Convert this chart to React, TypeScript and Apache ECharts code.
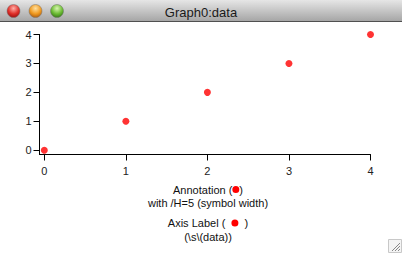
import React, { useEffect, useRef } from "react";
import * as echarts from "echarts";

const xValues = [0, 1, 2, 3, 4];
const yValues = [0, 1, 2, 3, 4];
const xTicks = [0, 1, 2, 3, 4];
const yTicks = [0, 1, 2, 3, 4];
const windowTitle = "Graph0:data";

const FONT = "'Liberation Sans', Arial, sans-serif";

export default function App() {
  const ref = useRef<HTMLDivElement>(null);
  useEffect(() => {
    document.body.style.margin = "0";
    const chart = echarts.init(ref.current!, null, { renderer: "svg" });
    const dot = {
      width: 7,
      height: 7,
      backgroundColor: "#ff0000",
      borderRadius: 3.5,
    };
    const lightTop = (cx: number, c1: string, c2: string, c3: string) => ({
      type: "circle",
      shape: { cx, cy: 11, r: 6.5 },
      style: {
        fill: new echarts.graphic.RadialGradient(0.5, 0.3, 0.7, [
          { offset: 0, color: c1 },
          { offset: 0.6, color: c2 },
          { offset: 1, color: c3 },
        ]),
        stroke: "#777",
        lineWidth: 0.5,
      },
      z: 12,
    });
    chart.setOption({
      animation: false,
      grid: { left: 39.5, right: 31.5, top: 34.5, bottom: 98.5, containLabel: false },
      xAxis: {
        type: "value",
        min: -0.059,
        max: 4,
        axisLine: { show: true, onZero: false, lineStyle: { color: "#000", width: 1 } },
        axisTick: { show: true, length: 6, inside: false, customValues: xTicks, lineStyle: { color: "#000" } },
        axisLabel: { customValues: xTicks, color: "#222", fontSize: 11, fontFamily: FONT, margin: 11 },
        splitLine: { show: false },
      },
      yAxis: {
        type: "value",
        min: -0.149,
        max: 4,
        axisLine: { show: true, onZero: false, lineStyle: { color: "#000", width: 1 } },
        axisTick: { show: true, length: 6, inside: false, customValues: yTicks, lineStyle: { color: "#000" } },
        axisLabel: { customValues: yTicks, color: "#222", fontSize: 11, fontFamily: FONT, margin: 8 },
        splitLine: { show: false },
      },
      series: [
        {
          type: "scatter",
          data: xValues.map((x, i) => [x, yValues[i]]),
          symbol: "circle",
          symbolSize: 7,
          itemStyle: { color: "#ff0000" },
          clip: false,
        },
      ],
      graphic: [
        {
          type: "rect",
          shape: { x: 0, y: 0, width: 402, height: 21 },
          style: {
            fill: new echarts.graphic.LinearGradient(0, 0, 0, 1, [
              { offset: 0, color: "#e6e6e6" },
              { offset: 1, color: "#a6a6a6" },
            ]),
          },
          z: 10,
        },
        {
          type: "rect",
          shape: { x: 0, y: 21, width: 402, height: 1 },
          style: { fill: "#505050" },
          z: 10,
        },
        lightTop(13.5, "#ffb0a8", "#e0302a", "#a01010"),
        lightTop(35.5, "#ffe0a0", "#f09a20", "#b06010"),
        lightTop(57, "#d8f5b0", "#6cbc34", "#3a7a1a"),
        {
          type: "text",
          x: 201,
          y: 12,
          style: {
            text: windowTitle,
            font: `13px ${FONT}`,
            fill: "#1a1a1a",
            align: "center",
            verticalAlign: "middle",
          },
          z: 12,
        },
        {
          type: "text",
          x: 208,
          y: 196,
          style: {
            text: "Annotation ({d| })\nwith /H=5 (symbol width)",
            font: `11px ${FONT}`,
            fill: "#111",
            align: "center",
            verticalAlign: "middle",
            lineHeight: 13,
            rich: { d: dot },
          },
        },
        {
          type: "text",
          x: 208,
          y: 230,
          style: {
            text: "Axis Label (  {d| }  )\n(\\s\\(data))",
            font: `11px ${FONT}`,
            fill: "#111",
            align: "center",
            verticalAlign: "middle",
            lineHeight: 14,
            rich: { d: dot },
          },
        },
        {
          type: "rect",
          shape: { x: 388.5, y: 239.5, width: 13, height: 13 },
          style: { fill: "#f4f4f4", stroke: "#c8c8c8", lineWidth: 1 },
        },
        { type: "line", shape: { x1: 392, y1: 251, x2: 400, y2: 243 }, style: { stroke: "#888", lineWidth: 1 } },
        { type: "line", shape: { x1: 395, y1: 251, x2: 400, y2: 246 }, style: { stroke: "#888", lineWidth: 1 } },
        { type: "line", shape: { x1: 398, y1: 251, x2: 400, y2: 249 }, style: { stroke: "#888", lineWidth: 1 } },
      ],
    });
    return () => chart.dispose();
  }, []);
  return <div ref={ref} style={{ width: 402, height: 253 }} />;
}
